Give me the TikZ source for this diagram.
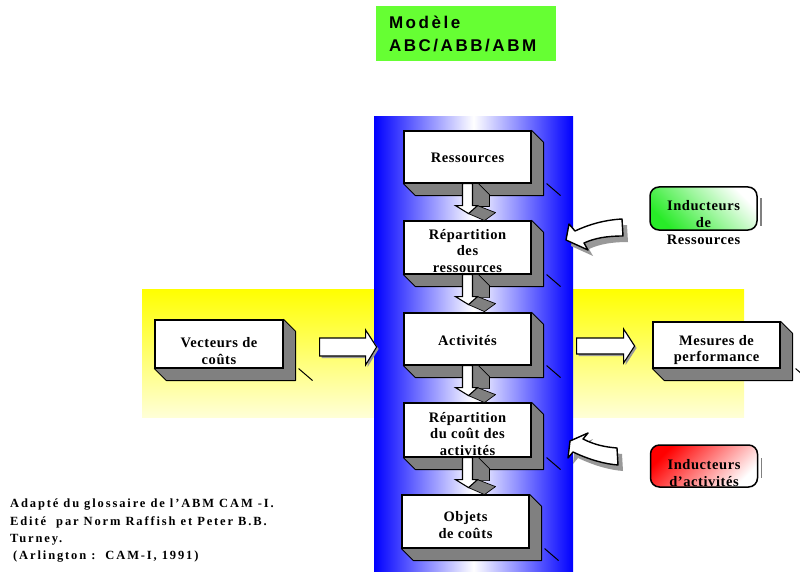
\documentclass[tikz,border=0pt]{standalone}
\usepackage{fontspec}
\setmainfont{Liberation Serif}
\newfontfamily\boxfont[LetterSpace=4]{Liberation Serif}
\newfontfamily\notefont[LetterSpace=15]{Liberation Serif}
\newfontfamily\titlefont[LetterSpace=15]{Liberation Sans}
\usetikzlibrary{calc}
\pgfdeclarelayer{shade}
\pgfdeclarelayer{depthlayer}
\pgfsetlayers{shade,depthlayer,main}

\definecolor{colblue}{RGB}{0,0,255}
\definecolor{depthgray}{RGB}{128,128,128}
\definecolor{bandtop}{RGB}{255,255,0}
\definecolor{bandbottom}{RGB}{255,255,215}
\definecolor{titlegreen}{RGB}{102,255,51}
\definecolor{drivergreen}{RGB}{40,235,40}
\definecolor{driverred}{RGB}{255,0,0}

\begin{document}
\begin{tikzpicture}[x=1pt,y=-1pt,
  face/.style={draw=black, line width=1.2pt, fill=white, inner sep=0pt,
    minimum width=127pt, minimum height=52pt},
  caption/.style={font=\boxfont\bfseries\fontsize{14.5}{16.5}\selectfont,
    align=center, inner sep=0pt},
  depth/.style={fill=depthgray, draw=black, line width=0.9pt, line join=round},
  stub/.style={draw=black, line width=1pt},
  block/.style={draw=black, fill=white, line width=1.1pt, line join=miter},
  blockshadow/.style={fill=depthgray!80},
  flowside/.style={fill=depthgray, draw=black, line width=0.7pt, line join=round},
  driver/.style={draw=black, line width=1.5pt, rounded corners=9pt,
    minimum width=107pt, minimum height=43pt, inner sep=0pt},
  drivertext/.style={font=\boxfont\bfseries\fontsize{14.5}{17}\selectfont,
    align=center, inner sep=0pt},
  curved/.style={draw=black, fill=white, line width=1.4pt, line join=round},
]
\useasboundingbox (0,0) rectangle (800,572);

% background: horizontal band and the vertical column
\begin{pgfonlayer}{shade}
  \shade[top color=bandtop, bottom color=bandbottom] (142,289) rectangle (744,417);
  \shade[left color=colblue, right color=colblue, middle color=white] (374,117) rectangle (573,572);
\end{pgfonlayer}

% title
\node[fill=titlegreen, minimum width=180pt, minimum height=55pt, text width=154pt,
  inner xsep=13pt, align=left,
  font=\titlefont\bfseries\fontsize{17}{23}\selectfont] (title) at (466,33.5)
  {Modèle\\ABC/ABB/ABM};

% main chain of 3D boxes
\node[face, label={[caption, yshift=-1pt]center:Ressources}] (res) at (467.5,157) {};
\node[face, minimum height=53pt, label={[caption, yshift=-3.5pt]center:{Répartition\\des\\ressources}}] (rep1) at (467.5,247.5) {};
\node[face, label={[caption, yshift=-2pt]center:Activités}] (act) at (467.5,339) {};
\node[face, minimum height=54pt, label={[caption, yshift=-4pt]center:{Répartition\\du coût des\\activités}}] (rep2) at (467.5,430) {};
\node[face, minimum height=53pt, label={[caption, yshift=-3.5pt]center:{Objets\\de coûts}}] (obj) at (465.5,521.5) {};

% side boxes
\node[face, minimum width=128pt, minimum height=48pt, label={[caption, yshift=-7pt]center:{Vecteurs de\\coûts}}] (vec) at (219,344) {};
\node[face, minimum height=46pt, label={[caption, yshift=-5pt]center:{Mesures de\\performance}}] (mes) at (716.5,345) {};

% extruded sides of the boxes
\begin{pgfonlayer}{depthlayer}
  \foreach \n in {res,rep1,act,rep2,obj,vec,mes}{
    \draw[depth] (\n.north east) -- ++(12,12) -- ($(\n.south east)+(12,12)$)
      -- ($(\n.south west)+(12,12)$) -- (\n.south west) -- cycle;
  }
\end{pgfonlayer}
\foreach \n in {res,rep1,act,rep2,obj,vec,mes}{
  \draw[stub] ($(\n.south east)+(15,0)$) -- ++(14,12);
}

% extruded down arrows between consecutive boxes
\foreach \n in {res,rep1,act,rep2}{
  \begin{scope}[shift={(\n.south)}]
    \draw[flowside] (5,0) -- (11,0) -- (22,11) -- (22,23) -- (5,23) -- cycle;
    \draw[flowside] (1,30) -- (10,22) -- (28,29) -- (17,37) -- cycle;
    \draw[block] (-5,0) -- (5,0) -- (5,22) -- (10,22) -- (1,30) -- (-12,22) -- (-5,22) -- cycle;
  \end{scope}
}

% horizontal block arrows
\begin{scope}[shift={(vec.east)}]
  \fill[blockshadow, shift={(2,2)}] (36,-6) -- (82,-6) -- (82,-14) -- (93,3) -- (82,21) -- (82,12) -- (36,12) -- cycle;
  \draw[block] (36,-6) -- (82,-6) -- (82,-14) -- (93,3) -- (82,21) -- (82,12) -- (36,12) -- cycle;
\end{scope}
\begin{scope}[shift={(act.east)}]
  \fill[blockshadow, shift={(2,2)}] (45,-1) -- (92,-1) -- (92,-10) -- (103,7) -- (92,24) -- (92,15) -- (45,15) -- cycle;
  \draw[block] (45,-1) -- (92,-1) -- (92,-10) -- (103,7) -- (92,24) -- (92,15) -- (45,15) -- cycle;
\end{scope}

% cost drivers
\node[driver, top color=drivergreen, bottom color=white, shading angle=135] (indres) at (703.5,208.5) {};
\node[drivertext, yshift=-14.5pt] (indres-t) at (indres.center) {Inducteurs\\de\\Ressources};
\draw[depthgray, line width=1.5pt] ($(indres.east)+(3,-10)$) -- ++(0,27);

\node[driver, minimum height=42pt, top color=driverred, bottom color=white, shading angle=45] (indact) at (704,466) {};
\node[drivertext, yshift=-7pt] (indact-t) at (indact.center) {Inducteurs\\d’activités};
\draw[depthgray, line width=1.5pt] ($(indact.east)+(3,-8)$) -- ++(0,20);

% curved arrows from the drivers towards the column
\fill[blockshadow, shift={(5,6)}] (566,240) -- (569,224) -- (575,231)
  .. controls (590,224) and (605,220) .. (622,219) -- (623,236)
  .. controls (607,236) and (595,238) .. (584,243) -- (588,250) -- cycle;
\draw[curved] (566,240) -- (569,224) -- (575,231)
  .. controls (590,224) and (605,220) .. (622,219) -- (623,236)
  .. controls (607,236) and (595,238) .. (584,243) -- (588,250) -- cycle;

\fill[blockshadow, shift={(5,6)}] (570,441) -- (588,433) -- (583,439)
  .. controls (595,445) and (605,447) .. (617,448) -- (618,465)
  .. controls (605,464) and (590,460) .. (573,452) -- (568,458) -- cycle;
\draw[curved] (570,441) -- (588,433) -- (583,439)
  .. controls (595,445) and (605,447) .. (617,448) -- (618,465)
  .. controls (605,464) and (590,460) .. (573,452) -- (568,458) -- cycle;

% source note
\node[anchor=north west, align=left, inner sep=0pt,
  font=\notefont\bfseries\fontsize{12.5}{17.3}\selectfont] (src) at (10,499)
  {Adapté du glossaire de l’ABM CAM -I.\\
   Edité\ \ par Norm Raffish et Peter B.B.\\
   Turney.\\
   \hspace*{3pt}(Arlington :\ \ CAM-I, 1991)};
\end{tikzpicture}
\end{document}
